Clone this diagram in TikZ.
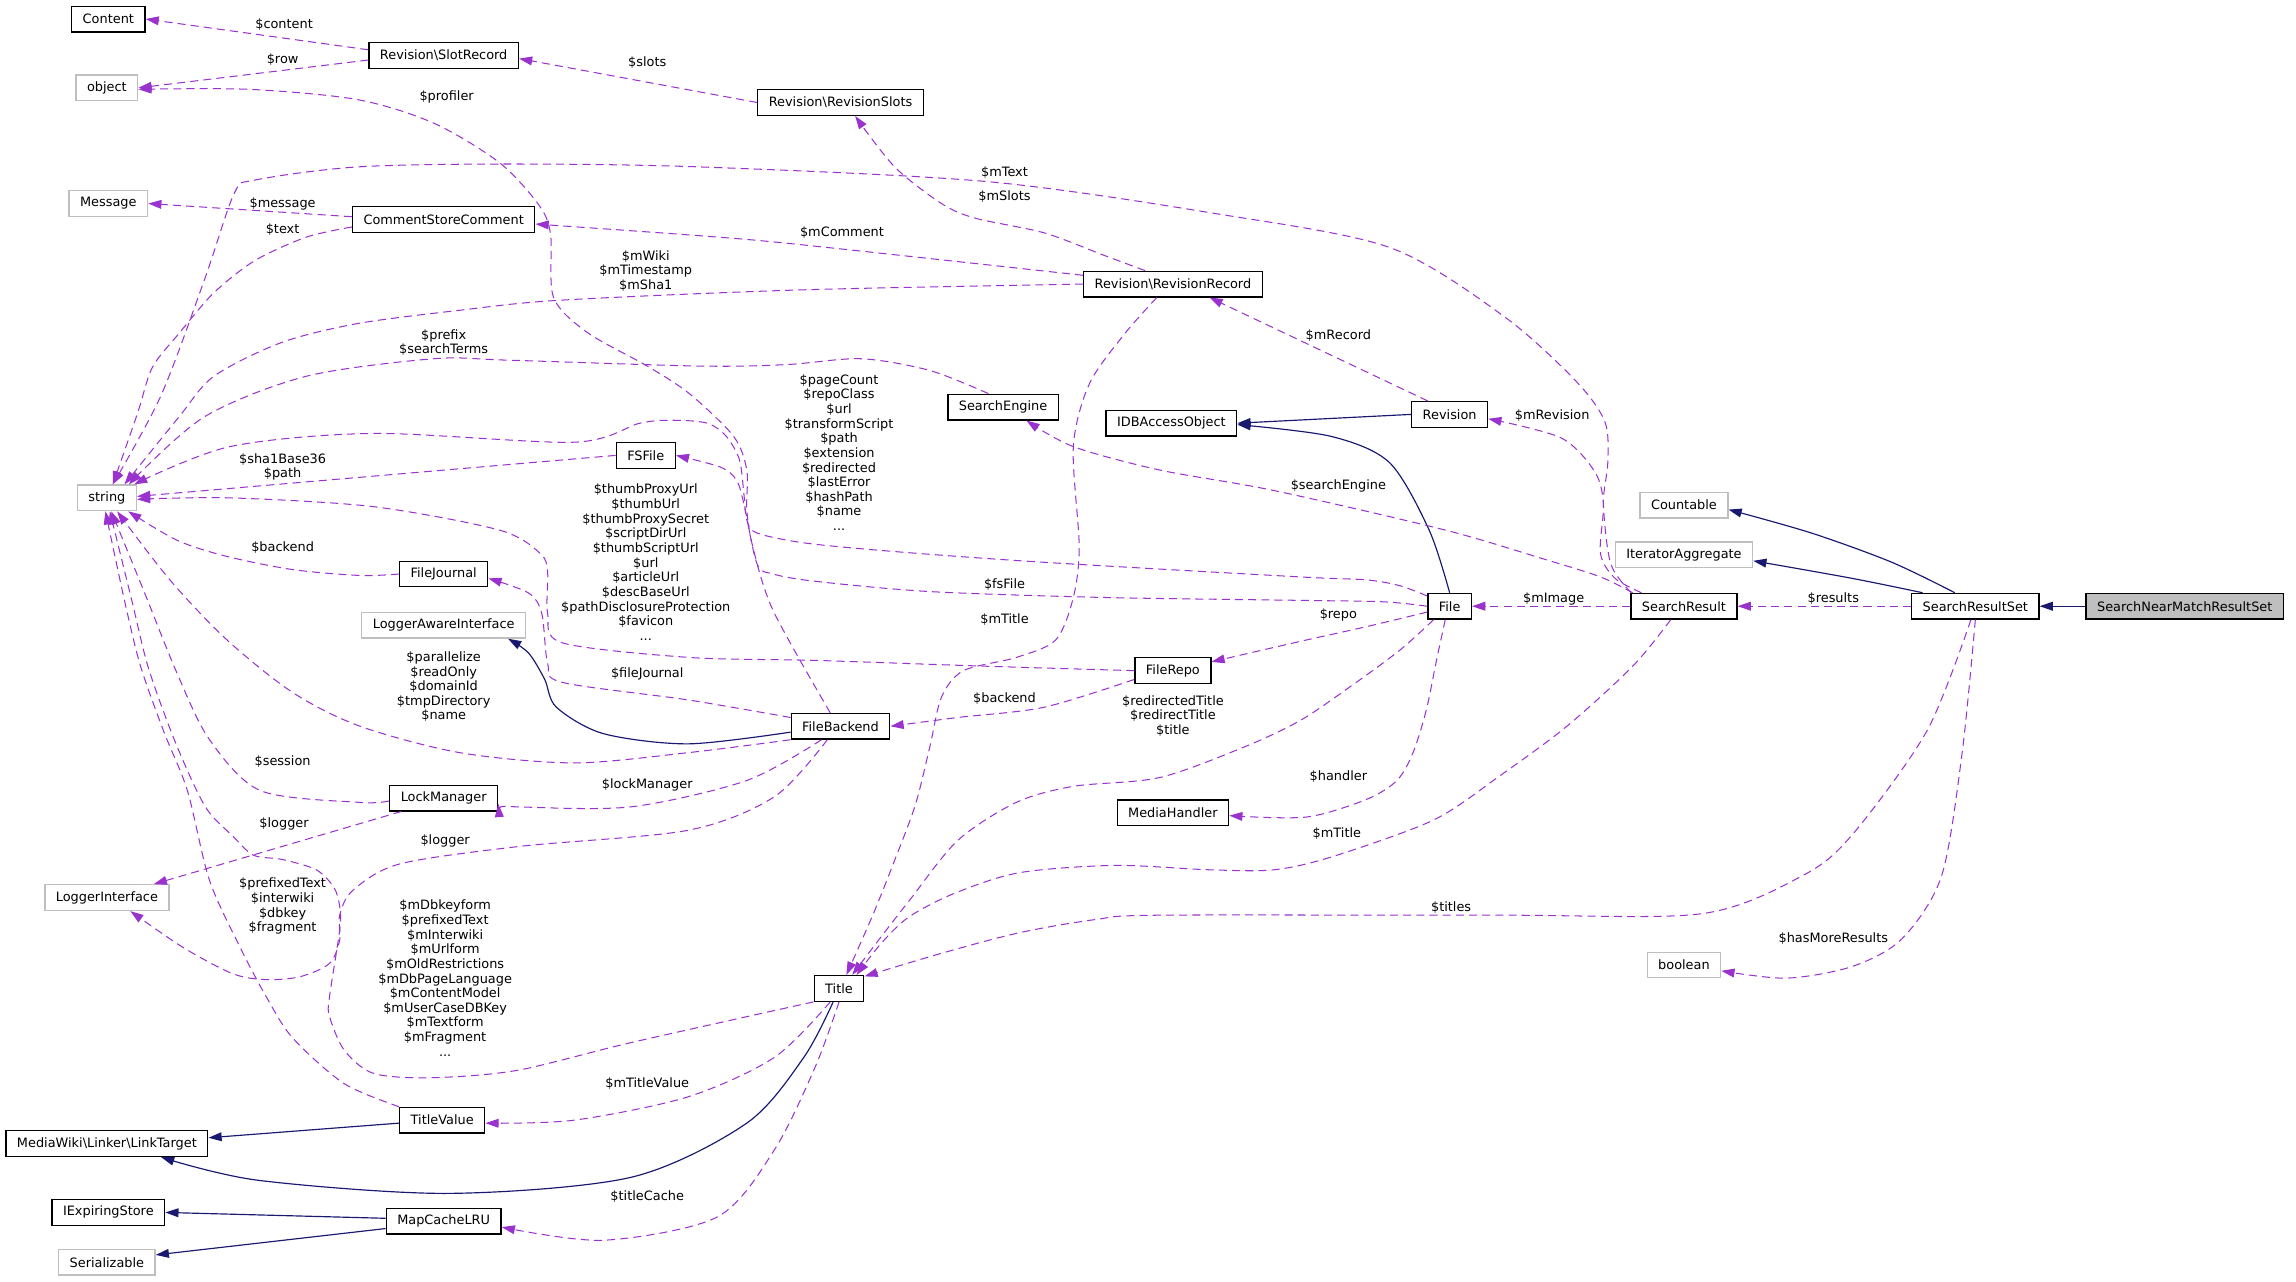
\documentclass[tikz,border=0pt]{standalone}
\usepackage{fontspec}
\setmainfont{DejaVu Sans}
\usetikzlibrary{arrows.meta}
\definecolor{dxpurple}{HTML}{9A32CD}
\definecolor{dxnavy}{HTML}{191970}
\definecolor{dxgray}{HTML}{BFBFBF}

\begin{document}
\begin{tikzpicture}[x=1pt, y=-1pt,
  cls/.style={
    rectangle, draw=black, line width=0.9pt, fill=white,
    minimum height=17.5pt, inner xsep=7.5pt, inner ysep=0pt,
    font=\fontsize{8.8}{10}\selectfont
  },
  extcls/.style={cls, draw=dxgray},
  focus/.style={cls, fill=dxgray},
  lbl/.style={font=\fontsize{8.8}{10}\selectfont, align=center, inner sep=0pt},
  uses/.style={-{Triangle[length=9pt,width=6pt]}, draw=dxpurple,
    line width=0.7pt, dash pattern=on 5.5pt off 3.5pt},
  inherits/.style={-{Triangle[length=9pt,width=6pt]}, draw=dxnavy, line width=0.8pt}
]
\useasboundingbox (0,0) rectangle (1568,875);

% classes
\node[cls]    (content)    at (74,13)    {Content};
\node[cls]    (slot)       at (303,38)   {Revision\textbackslash SlotRecord};
\node[extcls] (object)     at (73,60)    {object};
\node[cls]    (rslots)     at (574,70)   {Revision\textbackslash RevisionSlots};
\node[extcls] (message)    at (74,139)   {Message};
\node[cls]    (csc)        at (303,150)  {CommentStoreComment};
\node[cls]    (rrecord)    at (801,194)  {Revision\textbackslash RevisionRecord};
\node[cls]    (sengine)    at (685,278)  {SearchEngine};
\node[cls]    (idbao)      at (800,289)  {IDBAccessObject};
\node[cls]    (revision)   at (990,283)  {Revision};
\node[cls]    (fsfile)     at (441,311)  {FSFile};
\node[extcls] (string)     at (73,340)   {string};
\node[extcls] (countable)  at (1150,345) {Countable};
\node[extcls] (iteragg)    at (1150,379) {IteratorAggregate};
\node[cls]    (fjournal)   at (303,392)  {FileJournal};
\node[extcls] (lai)        at (303,427)  {LoggerAwareInterface};
\node[cls]    (file)       at (990,414)  {File};
\node[cls]    (sresult)    at (1150,414) {SearchResult};
\node[cls]    (srset)      at (1349,414) {SearchResultSet};
\node[focus]  (snmrs)      at (1492,414) {SearchNearMatchResultSet};
\node[cls]    (frepo)      at (801,458)  {FileRepo};
\node[cls]    (fbackend)   at (574,496)  {FileBackend};
\node[cls]    (mhandler)   at (801,555)  {MediaHandler};
\node[cls]    (lockm)      at (303,545)  {LockManager};
\node[extcls] (loggerif)   at (73,613)   {LoggerInterface};
\node[extcls] (boolean)    at (1150,659) {boolean};
\node[cls]    (title)      at (573,675)  {Title};
\node[cls]    (tvalue)     at (302,765)  {TitleValue};
\node[cls]    (linktarget) at (73,781)   {MediaWiki\textbackslash Linker\textbackslash LinkTarget};
\node[cls]    (iexp)       at (74,828)   {IExpiringStore};
\node[cls]    (mapcache)   at (303,834)  {MapCacheLRU};
\node[extcls] (serial)     at (73,862)   {Serializable};

% inheritance
\draw[inherits] (snmrs.west) -- (srset.east);
\draw[inherits] plot[smooth] coordinates {([xshift=-14pt]srset.north) (1292,384) (1237,364) ([yshift=-3pt]countable.east)};
\draw[inherits] plot[smooth] coordinates {([xshift=-36pt]srset.north) (1265,395) ([yshift=-4pt]iteragg.east)};
\draw[inherits] (revision.west) -- (idbao.east);
\draw[inherits] plot[smooth] coordinates {(file.north) (976,362) (949,316) (909,298) ([yshift=-1pt]idbao.east)};
\draw[inherits] plot[smooth] coordinates {([yshift=-4pt]fbackend.west) (470,508) (412,501) (380,483) (372,464) (361,446) ([xshift=44pt]lai.south)};
\draw[inherits] ([yshift=-2pt]tvalue.west) -- ([yshift=4pt]linktarget.east);
\draw[inherits] plot[smooth] coordinates {([xshift=-4pt]title.south) (549,722) (510,767) (431,804) (306,815) (176,806) ([xshift=37pt]linktarget.south)};
\draw[inherits] ([yshift=2pt]mapcache.west) -- (iexp.east);
\draw[inherits] ([yshift=-5pt]mapcache.west) -- ([yshift=5pt]serial.east);

% usage
\draw[uses] ([yshift=4pt]slot.west) -- (content.east);
\draw[uses] ([yshift=-3pt]slot.west) -- (object.east);
\draw[uses] (rslots.west) -- ([yshift=-2pt]slot.east);
\draw[uses] plot[smooth] coordinates {([xshift=-7pt]fbackend.north) (528,417) (514,373) (510,348) (510,321) (501,298) (471,269) (442,250) (401,227) (378,203) (376,160) (368,140) (341,111) (296,84) (244,68) (170,61) ([yshift=-1pt]object.east)};
\draw[uses] ([yshift=2pt]csc.west) -- (message.east);
\draw[uses] plot[smooth] coordinates {([yshift=-5pt]csc.west) (209,162) (174,178) (146,200) (122,228) (104,251) (94,282) ([xshift=4pt]string.north)};
\draw[uses] plot[smooth] coordinates {([yshift=6pt]rrecord.west) (546,167) (478,161) ([yshift=-3pt]csc.east)};
\draw[uses] plot[smooth] coordinates {([xshift=-19pt]rrecord.north) (753,174) (713,159) (666,149) (643,139) (611,114) ([xshift=10pt]rslots.south)};
\draw[uses] plot[smooth] coordinates {(rrecord.west) (546,198) (383,205) (313,212) (244,221) (192,234) (146,257) (122,285) ([xshift=12pt]string.north)};
\draw[uses] plot[smooth] coordinates {([xshift=-36pt]sresult.north) (1100,385) (1095,344) (1098,316) (1096,288) (1076,260) (1027,216) (949,169) (831,146) (674,124) (478,114) (348,112) (244,114) (174,123) (160,132) (140,190) (110,270) ([xshift=4pt]string.north)};
\draw[uses] plot[smooth] coordinates {([xshift=-10pt]sengine.north) (635,253) (588,245) (537,249) (478,250) (348,246) (296,245) (209,257) (139,285) ([xshift=15pt]string.north)};
\draw[uses] plot[smooth] coordinates {([yshift=7pt]file.west) (956,400) (933,396) (888,394) (713,384) (615,377) (551,371) (517,364) (510,355) (508,337) (505,314) (496,298) (483,289) (460,287) (437,289) (392,302) (255,296) (157,305) ([xshift=-2pt]string.north east)};
\draw[uses] plot[smooth] coordinates {(file.west) (945,411) (888,410) (753,408) (635,404) (557,397) (528,392) (517,385) (508,344) (503,328) (492,319) (fsfile.east)};
\draw[uses] (fsfile.west) -- ([yshift=1pt]string.east);
\draw[uses] plot[smooth] coordinates {(frepo.west) (674,455) (557,451) (471,449) (384,439) (374,419) (374,391) (369,378) (341,362) (255,346) (157,340) ([yshift=-1pt]string.east)};
\draw[uses] plot[smooth] coordinates {([yshift=6pt]fbackend.west) (470,478) (384,466) (374,453) (370,419) (361,405) ([yshift=-3pt]fjournal.east)};
\draw[uses] plot[smooth] coordinates {(fjournal.west) (246,393) (200,389) (155,380) (121,369) ([xshift=-6pt]string.south east)};
\draw[uses] plot[smooth] coordinates {(fbackend.south west) (470,514) (392,521) (314,514) (246,496) (200,473) (155,437) (116,396) ([xshift=7pt]string.south)};
\draw[uses] plot[smooth] coordinates {([yshift=-2pt]lockm.west) (246,548) (178,540) (143,505) (121,460) (98,403) ([xshift=3pt]string.south)};
\draw[uses] plot[smooth] coordinates {([xshift=-13pt]fbackend.south) (510,533) (431,551) (353,551) ([yshift=-4pt]lockm.east)};
\draw[uses] ([xshift=-29pt]lockm.south) -- ([xshift=32pt]loggerif.north);
\draw[uses] plot[smooth] coordinates {([xshift=-9pt]fbackend.south) (529,544) (470,567) (355,578) (273,590) (241,608) (232,625) (232,642) (225,658) (205,667) (182,669) (159,665) (125,647) ([xshift=16pt]loggerif.south)};
\draw[uses] plot[smooth] coordinates {(title.south west) (431,712) (353,731) (294,736) (255,733) (235,717) (225,694) (225,681) (232,635) (232,619) (228,606) (216,594) (193,587) (173,584) (159,571) (143,555) (132,535) (117,500) (101,455) (90,410) ([xshift=2pt]string.south)};
\draw[uses] plot[smooth] coordinates {(tvalue.north west) (235,740) (200,709) (182,681) (164,647) (143,601) (128,540) (112,500) (96,455) (85,410) ([xshift=-1pt]string.south)};
\draw[uses] plot[smooth] coordinates {([xshift=-6pt]title.south) (529,722) (470,749) (392,765) ([yshift=-2pt]tvalue.east)};
\draw[uses] plot[smooth] coordinates {(title.south) (557,728) (529,785) (490,831) (412,847) ([yshift=-4pt]mapcache.east)};
\draw[uses] plot[smooth] coordinates {([xshift=-11pt]rrecord.south) (768,228) (744,262) (733,305) (737,373) (733,408) (721,437) (694,449) (658,458) (643,476) (635,510) (625,550) (610,590) (596,625) ([xshift=5pt]title.north)};
\draw[uses] plot[smooth] coordinates {([xshift=-11pt]file.south) (956,444) (922,469) (888,492) (850,510) (792,531) (733,537) (694,548) (654,574) (621,615) (600,642) ([xshift=9pt]title.north)};
\draw[uses] plot[smooth] coordinates {([xshift=-9pt]sresult.south) (1115,455) (1070,496) (1024,530) (979,560) (910,585) (870,594) (826,594) (761,591) (696,596) (652,610) (621,626) (602,644) ([xshift=12pt]title.north)};
\draw[uses] plot[smooth] coordinates {([xshift=-3pt]srset.south) (1316,499) (1265,570) (1231,598) (1162,624) (1024,625) (792,625) (748,628) (696,637) (643,651) ([yshift=-1pt]title.north east)};
\draw[uses] plot[smooth] coordinates {(srset.south) (1340,514) (1326,598) (1299,641) (1265,660) (1220,668) ([yshift=-4pt]boolean.east)};
\draw[uses] plot[smooth] coordinates {([yshift=-4pt]file.west) (933,428) (888,438) ([yshift=6pt]frepo.east)};
\draw[uses] plot[smooth] coordinates {([yshift=-6pt]frepo.west) (713,483) (654,490) (fbackend.east)};
\draw[uses] plot[smooth] coordinates {([xshift=-3pt]file.south) (981,451) (974,485) (965,514) (954,533) (933,546) (892,558) ([yshift=-2pt]mhandler.east)};
\draw[uses] ([xshift=-15pt]revision.north) -- ([xshift=25pt]rrecord.south);
\draw[uses] plot[smooth] coordinates {([xshift=-35pt]sresult.north) (1093,394) (1055,382) (987,362) (870,335) (792,321) (733,305) ([xshift=16pt]sengine.south)};
\draw[uses] plot[smooth] coordinates {([xshift=-29pt]sresult.north) (1103,395) (1093,378) (1095,344) (1089,322) (1066,299) ([yshift=-3pt]revision.east)};
\draw[uses] (sresult.west) -- (file.east);
\draw[uses] (srset.west) -- (sresult.east);

% member labels
\node[lbl] (lcontent)     at (194,17)  {\$content};
\node[lbl] (lrow)         at (193,41)  {\$row};
\node[lbl] (lslots)       at (442,43)  {\$slots};
\node[lbl] (lprofiler)    at (305,66)  {\$profiler};
\node[lbl] (lmessage)     at (193,139) {\$message};
\node[lbl] (ltext)        at (193,157) {\$text};
\node[lbl] (lmtext)       at (686,118) {\$mText};
\node[lbl] (lmslots)      at (686,134) {\$mSlots};
\node[lbl] (lmcomment)    at (575,159) {\$mComment};
\node[lbl] (lmwiki)       at (441,185) {\$mWiki\\\$mTimestamp\\\$mSha1};
\node[lbl] (lmrecord)     at (914,229) {\$mRecord};
\node[lbl] (lprefix)      at (303,234) {\$prefix\\\$searchTerms};
\node[lbl] (lpagecount)   at (573,309) {\$pageCount\\\$repoClass\\\$url\\\$transformScript\\\$path\\\$extension\\\$redirected\\\$lastError\\\$hashPath\\\$name\\...};
\node[lbl] (lmrevision)   at (1060,284) {\$mRevision};
\node[lbl] (lsha)         at (193,319) {\$sha1Base36\\\$path};
\node[lbl] (lsengine)     at (914,332) {\$searchEngine};
\node[lbl] (lbackend1)    at (193,374) {\$backend};
\node[lbl] (lthumb)       at (441,384) {\$thumbProxyUrl\\\$thumbUrl\\\$thumbProxySecret\\\$scriptDirUrl\\\$thumbScriptUrl\\\$url\\\$articleUrl\\\$descBaseUrl\\\$pathDisclosureProtection\\\$favicon\\...};
\node[lbl] (lfsfile)      at (686,399) {\$fsFile};
\node[lbl] (lmimage)      at (1061,409) {\$mImage};
\node[lbl] (lresults)     at (1252,409) {\$results};
\node[lbl] (lrepo)        at (914,420) {\$repo};
\node[lbl] (lmtitle1)     at (686,423) {\$mTitle};
\node[lbl] (lfjournal)    at (442,460) {\$fileJournal};
\node[lbl] (lparams)      at (303,469) {\$parallelize\\\$readOnly\\\$domainId\\\$tmpDirectory\\\$name};
\node[lbl] (lbackend2)    at (686,477) {\$backend};
\node[lbl] (lredir)       at (801,489) {\$redirectedTitle\\\$redirectTitle\\\$title};
\node[lbl] (lsession)     at (193,520) {\$session};
\node[lbl] (lhandler)     at (914,530) {\$handler};
\node[lbl] (llockm)       at (442,536) {\$lockManager};
\node[lbl] (llogger1)     at (194,563) {\$logger};
\node[lbl] (lmtitle2)     at (913,569) {\$mTitle};
\node[lbl] (llogger2)     at (304,574) {\$logger};
\node[lbl] (lprefixed)    at (193,619) {\$prefixedText\\\$interwiki\\\$dbkey\\\$fragment};
\node[lbl] (ltitles)      at (991,620) {\$titles};
\node[lbl] (lhasmore)     at (1252,641) {\$hasMoreResults};
\node[lbl] (ldbkey)       at (304,668) {\$mDbkeyform\\\$prefixedText\\\$mInterwiki\\\$mUrlform\\\$mOldRestrictions\\\$mDbPageLanguage\\\$mContentModel\\\$mUserCaseDBKey\\\$mTextform\\\$mFragment\\...};
\node[lbl] (lmtitlevalue) at (442,740) {\$mTitleValue};
\node[lbl] (ltitlecache)  at (442,817) {\$titleCache};
\end{tikzpicture}
\end{document}
